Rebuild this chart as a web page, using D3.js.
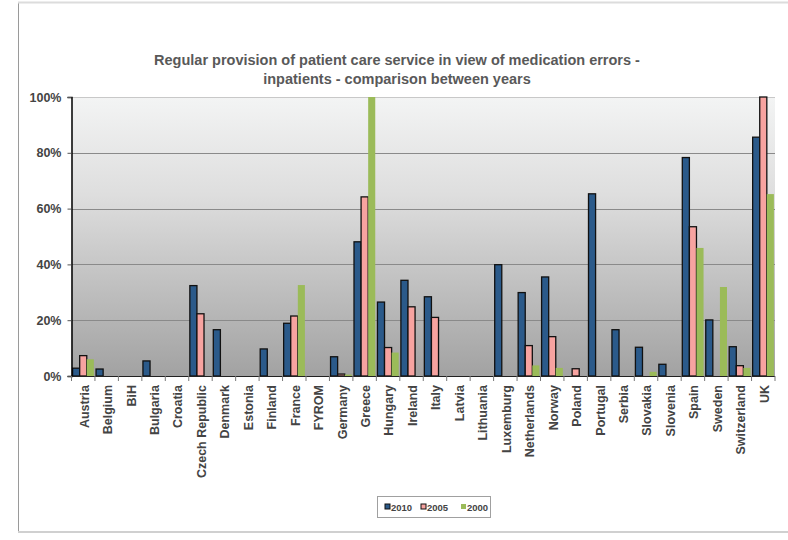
<!DOCTYPE html>
<html><head><meta charset="utf-8">
<script src="https://cdn.jsdelivr.net/npm/d3@7/dist/d3.min.js"></script>
<style>body{margin:0;background:#fff;} svg{display:block;font-family:"Liberation Sans",Arial,sans-serif;}</style>
</head><body>
<svg id="chart" width="788" height="540"></svg>
<script>
const categories = ["Austria","Belgium","BiH","Bulgaria","Croatia","Czech Republic","Denmark","Estonia","Finland","France","FYROM","Germany","Greece","Hungary","Ireland","Italy","Latvia","Lithuania","Luxemburg","Netherlands","Norway","Poland","Portugal","Serbia","Slovakia","Slovenia","Spain","Sweden","Switzerland","UK"];
const years = ["2010","2005","2000"];
const v2010 = [2.8,2.5,0,5.4,0,32.4,16.6,0,9.7,18.9,0,6.9,48.1,26.5,34.3,28.4,0,0,39.9,29.9,35.5,0,65.3,16.6,10.3,4.2,78.3,20.1,10.5,85.6];
const v2005 = [7.3,0,0,0,0,22.3,0,0,0,21.5,0,0.7,64.2,10.2,24.8,21.0,0,0,0,10.9,14.1,2.6,0,0,0,0,53.5,0,3.7,100];
const v2000 = [6.0,0,0,0,0,0,0,0,0,32.6,0,0.5,100,8.4,0,0,0,0,0,3.8,2.9,0,0,0,1.5,0,45.9,31.9,2.9,65.2];
const yTicks = [0,20,40,60,80,100];
const titleLines = ["Regular provision of patient care service in view of medication errors -","inpatients  - comparison between years"];
const colors = {"2010":"#2b5a8a","2005":"#f7a3a0","2000":"#9bbb59"};
const series = {"2010":v2010,"2005":v2005,"2000":v2000};

const svg = d3.select("#chart");
// outer frame
svg.append("line").attr("x1",18.5).attr("x2",18.5).attr("y1",2).attr("y2",532).attr("stroke","#9a9a9a");
svg.append("line").attr("x1",18).attr("x2",788).attr("y1",2.5).attr("y2",2.5).attr("stroke","#dcdcdc").attr("stroke-width",2);
svg.append("line").attr("x1",18).attr("x2",788).attr("y1",532).attr("y2",532).attr("stroke","#d0d0d0").attr("stroke-width",2);

const L=71.5, R=775, T=97, B=376;
const x = d3.scaleBand().domain(categories).range([L,R]).paddingInner(0).paddingOuter(0);
const xs = d3.scaleBand().domain(years).range([1.1, x.bandwidth()-1.1]);
const y = d3.scaleLinear().domain([0,100]).range([B,T]);

const defs = svg.append("defs");
const grad = defs.append("linearGradient").attr("id","bg").attr("x1",0).attr("x2",0).attr("y1",0).attr("y2",1);
grad.append("stop").attr("offset","0%").attr("stop-color","#f3f4f4");
grad.append("stop").attr("offset","35%").attr("stop-color","#dedede");
grad.append("stop").attr("offset","100%").attr("stop-color","#a2a2a2");
svg.append("rect").attr("x",L).attr("y",T).attr("width",R-L).attr("height",B-T).attr("fill","url(#bg)");

// gridlines
svg.append("g").selectAll("line").data(yTicks.filter(d=>d>0)).join("line")
  .attr("x1",L).attr("x2",R).attr("y1",d=>Math.round(y(d))+0.5).attr("y2",d=>Math.round(y(d))+0.5)
  .attr("stroke",d=>d===100?"#c8c8c8":"#8a8a8a").attr("stroke-width",1);

// bars
const g = svg.append("g");
years.forEach(yr=>{
  g.append("g").selectAll("rect").data(categories.map((c,i)=>({c,v:series[yr][i]})).filter(d=>d.v>0)).join("rect")
    .attr("x",d=>x(d.c)+xs(yr)).attr("width",xs.bandwidth())
    .attr("y",d=>y(d.v)).attr("height",d=>B-y(d.v))
    .attr("fill",colors[yr])
    .attr("stroke",yr==="2000"?"none":"#111").attr("stroke-width",1.3);
});

// y axis
const yAxis = d3.axisLeft(y).tickValues(yTicks).tickFormat(d=>d+"%").tickSize(4).tickPadding(6);
const ya = svg.append("g").attr("transform",`translate(${L},0)`).call(yAxis);
ya.select(".domain").attr("stroke","#000").attr("stroke-width",1.5);
ya.selectAll(".tick line").attr("stroke","#555");
ya.selectAll("text").attr("font-size",12.5).attr("font-weight","bold").attr("fill","#444").attr("font-family","'Liberation Sans',Arial,sans-serif");

// x axis
svg.append("line").attr("x1",L).attr("x2",R).attr("y1",B+0.5).attr("y2",B+0.5).attr("stroke","#222").attr("stroke-width",1.2);
const bounds = categories.map(c=>x(c)).concat([R]);
svg.append("g").selectAll("line").data(bounds).join("line")
  .attr("x1",d=>d).attr("x2",d=>d).attr("y1",B).attr("y2",B+5).attr("stroke","#777");
svg.append("g").selectAll("text").data(categories).join("text")
  .attr("transform",d=>`translate(${x(d)+x.bandwidth()/2+1},385) rotate(-90)`)
  .attr("text-anchor","end").attr("dy","0.35em")
  .attr("font-size",12.5).attr("font-weight","bold").attr("fill","#444").text(d=>d);

// title
svg.append("text").attr("x",397).attr("y",0).attr("text-anchor","middle")
  .attr("font-size",14.5).attr("font-weight","bold").attr("fill","#595959")
  .selectAll("tspan").data(titleLines).join("tspan").attr("x",397).attr("y",(d,i)=>65+i*18.5).text(d=>d);

// legend
const lg = svg.append("g");
lg.append("rect").attr("x",377.5).attr("y",496.5).attr("width",113).attr("height",21).attr("fill","#fff").attr("stroke","#a0a0a0");
const lx = [385,421,461];
years.forEach((yr,i)=>{
  lg.append("rect").attr("x",lx[i]).attr("y",504).attr("width",5).attr("height",5).attr("fill",colors[yr])
    .attr("stroke",yr==="2000"?"none":"#111").attr("stroke-width",1);
  lg.append("text").attr("x",lx[i]+6).attr("y",510.5).attr("font-size",9.5).attr("font-weight","bold").attr("fill","#444").text(yr);
});
</script>
</body></html>
